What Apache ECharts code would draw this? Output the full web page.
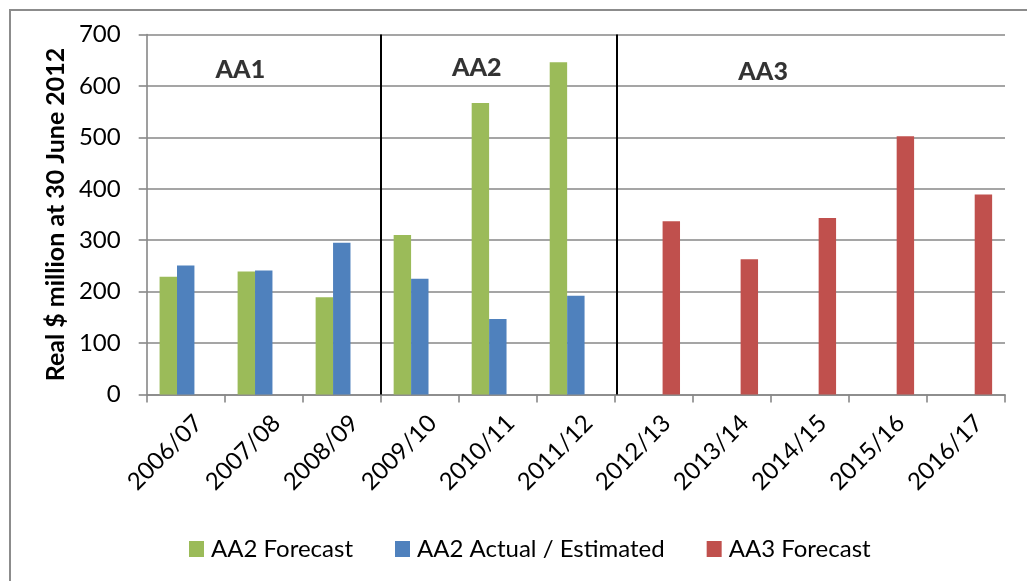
<!DOCTYPE html>
<html>
<head>
<meta charset="utf-8">
<script src="https://cdn.jsdelivr.net/npm/echarts@6/dist/echarts.min.js"></script>
<style>
  html, body { margin: 0; padding: 0; background: #fff; }
  #chart { width: 1027px; height: 581px; }
</style>
</head>
<body>
<div id="chart"></div>
<script>
// Financial years on the category axis
const categories = ['2006/07', '2007/08', '2008/09', '2009/10', '2010/11', '2011/12',
                    '2012/13', '2013/14', '2014/15', '2015/16', '2016/17'];

// Real $ million at 30 June 2012
const aa2Forecast = [229, 239, 189, 310, 567, 646, null, null, null, null, null];
const aa2Actual   = [251, 241, 295, 225, 147, 192, null, null, null, null, null];
const aa3Forecast = [null, null, null, null, null, null, 337, 263, 343, 502, 389];

const seriesNames = ['AA2 Forecast', 'AA2 Actual / Estimated', 'AA3 Forecast'];
const yTicks = { min: 0, max: 700, interval: 100 };

// Period dividers (positions in category units) and period captions
const dividers = [3, 6.02];
const periodLabels = [[1.2, 632, 'AA1'], [4.23, 635, 'AA2'], [7.9, 628, 'AA3']];

const FONT = 'Lato, "Open Sans", sans-serif';
const AXIS_GREY = '#878787';

const chart = echarts.init(document.getElementById('chart'), null, { renderer: 'canvas' });

chart.setOption({
  animation: false,
  backgroundColor: '#ffffff',
  color: ['#9BBB59', '#4F81BD', '#C0504D'],
  textStyle: { fontFamily: FONT },
  graphic: [{
    type: 'rect',
    shape: { x: 10, y: 10, width: 1100, height: 700 },
    style: { fill: 'none', stroke: '#8c8c8c', lineWidth: 2 },
    silent: true
  }],
  grid: { left: 146.7, right: 22, top: 34.5, bottom: 186.5, containLabel: false },
  legend: {
    data: seriesNames,
    left: 189,
    top: 537,
    icon: 'rect',
    itemWidth: 15,
    itemHeight: 16,
    itemGap: 42,
    padding: 0,
    textStyle: { fontFamily: FONT, fontSize: 24, color: '#000', padding: [0, 0, 0, 2] }
  },
  xAxis: [{
    type: 'category',
    data: categories,
    boundaryGap: true,
    axisLine: { lineStyle: { color: AXIS_GREY, width: 1.6 } },
    axisTick: { show: true, length: 8, lineStyle: { color: AXIS_GREY, width: 1.6 } },
    axisLabel: {
      rotate: 45,
      interval: 0,
      margin: 12,
      verticalAlign: 'top',
      padding: [6, 0, 0, 0],
      fontFamily: FONT,
      fontSize: 24,
      color: '#000'
    },
    splitLine: { show: false }
  }, {
    // hidden linear axis across the same span, used for dividers and captions
    type: 'value',
    min: 0,
    max: categories.length,
    show: false
  }],
  yAxis: {
    type: 'value',
    min: yTicks.min,
    max: yTicks.max,
    interval: yTicks.interval,
    name: 'Real $ million at 30 June 2012',
    nameLocation: 'middle',
    nameGap: 74,
    nameTextStyle: { fontFamily: FONT, fontSize: 25, fontWeight: 'bold', color: '#000' },
    axisLine: { show: true, lineStyle: { color: AXIS_GREY, width: 1.6 } },
    axisTick: { show: true, length: 8, lineStyle: { color: AXIS_GREY, width: 1.6 } },
    axisLabel: { margin: 26, fontFamily: FONT, fontSize: 24, color: '#000' },
    splitLine: { show: true, lineStyle: { color: AXIS_GREY, width: 1.6 } }
  },
  series: [
    {
      name: seriesNames[0], type: 'bar', data: aa2Forecast,
      barGap: '0%', barCategoryGap: '33%'
    },
    {
      name: seriesNames[1], type: 'bar', data: aa2Actual,
      barGap: '0%', barCategoryGap: '33%'
    },
    {
      name: seriesNames[2], type: 'bar', data: aa3Forecast,
      barGap: '0%', barCategoryGap: '33%'
    },
    {
      name: 'periods',
      type: 'scatter',
      xAxisIndex: 1,
      symbolSize: 0,
      data: periodLabels,
      silent: true,
      label: {
        show: true,
        position: 'inside',
        formatter: p => p.value[2],
        fontFamily: FONT,
        fontSize: 25,
        fontWeight: 900,
        color: '#000'
      },
      markLine: {
        silent: true,
        symbol: 'none',
        label: { show: false },
        lineStyle: { color: '#000', width: 2, type: 'solid' },
        data: dividers.map(v => ({ xAxis: v }))
      }
    }
  ]
});
</script>
</body>
</html>
